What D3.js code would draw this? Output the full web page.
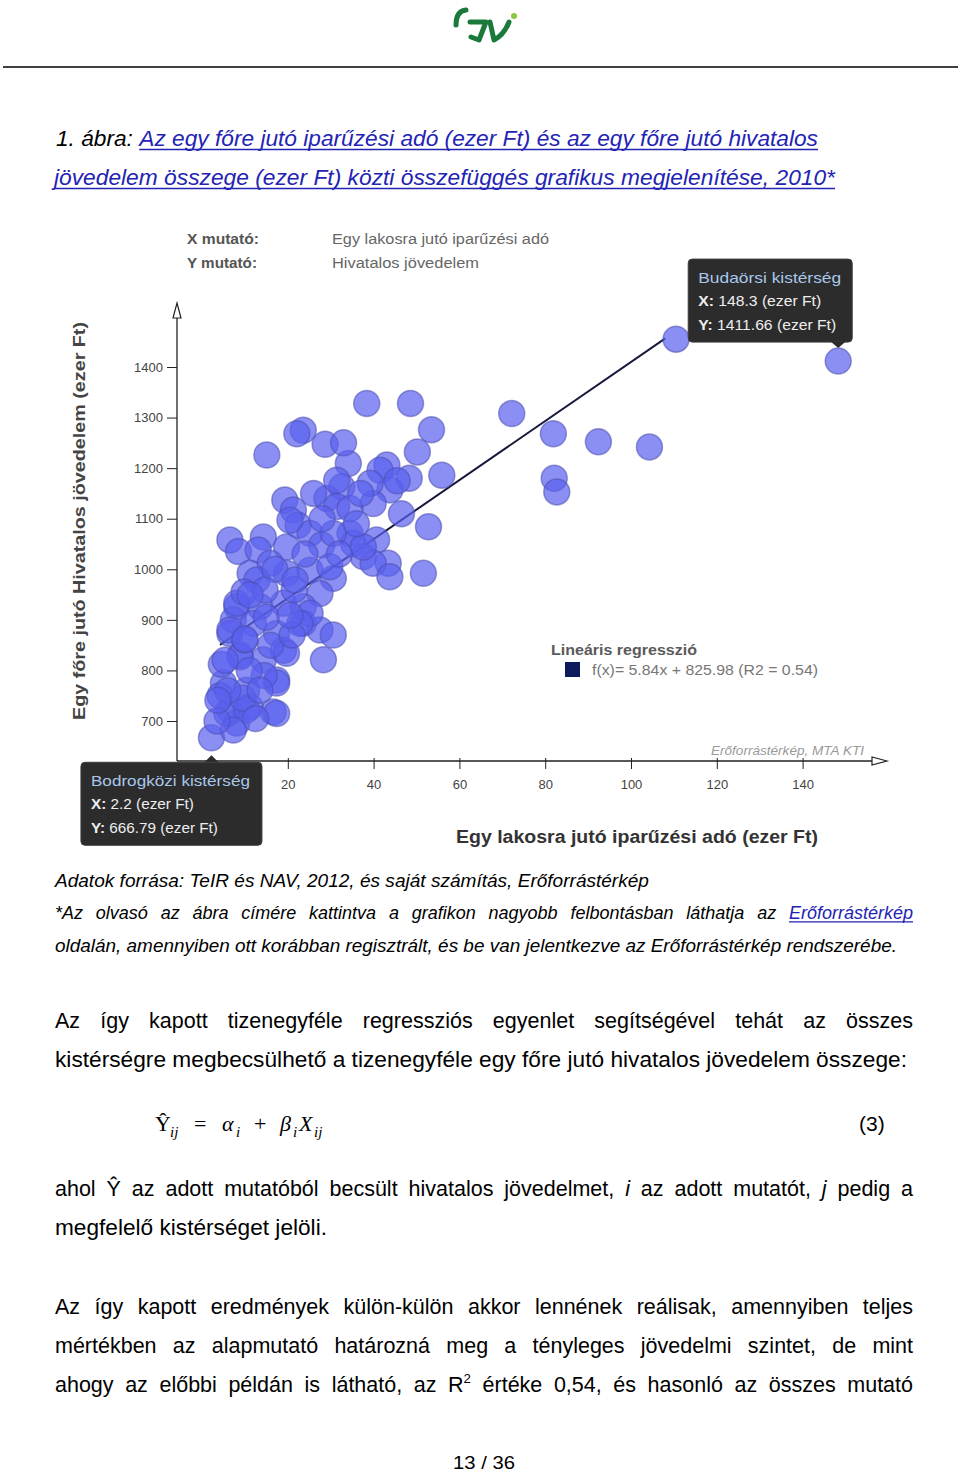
<!DOCTYPE html>
<html lang="hu">
<head>
<meta charset="UTF-8">
<title>Iparűzési adó és hivatalos jövedelem, 2010</title>
<script src="https://d3js.org/d3.v7.min.js"></script>
<style>
  body { margin: 0; background: #fff; }
  svg { display: block; font-family: "Liberation Sans", Arial, sans-serif; }
</style>
</head>
<body>
<script>
// --- data ---
// egy lakosra jutó iparűzési adó (ezer Ft)
const taxPerCapita = [
  38.4, 48.6, 72.2, 53.5, 23.6, 22.1, 28.7, 15.1, 50.2, 34.1, 43.1, 41.5, 48.3, 55.9, 32.6, 43.8,
  39.9, 29.1, 31.4, 19.3, 21.3, 22.4, 46.5, 52.8, 6.5, 8.5, 14.3, 13.1, 19.7, 25.2, 27.9, 34.5,
  35.3, 40.7, 37.6, 43.4, 39.9, 11.2, 19.7, 15.9, 25.2, 30.6, 51.6, 27.5, 8.1, 13.5, 19.0, 23.6,
  7.3, 12.0, 17.4, 23.6, 27.5, 30.6, 6.5, 8.9, 14.3, 19.0, 28.3, 17.4, 5.0, 10.4, 6.5, 16.6,
  2.2, 11.2, 8.1, 81.9, 92.4, 104.3, 82.1, 82.7, 110.5, 148.3, 8.1, 6.5, 8.9, 19.7, 17.4, 5.8,
  10.4, 17.4, 7.3, 25.2, 12.8, 43.8, 22.8, 31.4, 39.2, 20.5, 34.5, 30.6, 37.6, 29.8,
  4.2, 9.5, 3.5, 12.5, 6.0, 14.5, 11.0, 4.5, 16.0, 10.0, 21.0, 15.0, 9.8, 21.5, 17.0, 24.0,
  32.0, 28.0, 36.0, 26.0, 37.0, 45.5, 33.0,
  10.0, 14.7, 21.7, 5.4, 13.5, 20.5, 11.2, 3.7
];
// egy főre jutó hivatalos jövedelem (ezer Ft)
const incomePerCapita = [
  1328, 1328, 1308, 1276, 1275, 1268, 1247, 1226, 1232, 1209, 1206, 1196, 1180, 1186, 1163, 1157,
  1130, 1140, 1124, 1137, 1117, 1087, 1110, 1084, 1058, 1035, 1064, 1038, 1044, 1071, 1048, 1071,
  1051, 1058, 1025, 1012, 1012, 992, 992, 1012, 998, 982, 992, 952, 926, 926, 933, 926,
  900, 893, 873, 893, 880, 870, 873, 830, 821, 840, 821, 781, 775, 761, 722, 718,
  666.79, 728, 696, 1268, 1252, 1242, 1180, 1153, 1455, 1411.66, 933, 880, 827, 834, 775, 715,
  722, 715, 682, 913, 979, 985, 893, 1176, 1170, 1097, 1120, 1071, 1044, 1005,
  750, 745, 700, 705, 760, 790, 800, 812, 850, 860, 870, 905, 955, 960, 1000, 1030,
  1030, 1100, 1090, 1150, 1150, 1175, 1250,
  862, 959, 979, 820, 761, 909, 949, 741
];
const xTicks = [20, 40, 60, 80, 100, 120, 140];
const yTicks = [700, 800, 900, 1000, 1100, 1200, 1300, 1400];
const regSlope = 5.84;
const regIntercept = 825.98;
const regExtent = [4.2, 108];
const tipNames = ["Budaörsi kistérség", "Bodrogközi kistérség"];
const tipX = [148.3, 2.2];
const tipY = [1411.66, 666.79];
const tipSide = ["above", "below"];

const bodyFont = '"Liberation Sans", Arial, sans-serif';
const linkColor = "#2323b4";

const svg = d3.select("body").append("svg")
    .attr("width", 960)
    .attr("height", 1473);

// --- header: logo + rule ---
const logo = svg.append("g").attr("fill", "none").attr("stroke-linecap", "round");
logo.append("path").attr("d", "M466 10 Q456 11 456 25").attr("stroke", "#1b7a3b").attr("stroke-width", 5);
logo.append("path").attr("d", "M470 22 L486 22 L479 40 L471 37").attr("stroke", "#1b7a3b").attr("stroke-width", 5).attr("stroke-linejoin", "round");
logo.append("path").attr("d", "M490 22 L494 40 Q504 35 509 22").attr("stroke", "#1b7a3b").attr("stroke-width", 5).attr("stroke-linejoin", "round");
logo.append("circle").attr("cx", 514).attr("cy", 16).attr("r", 3).attr("fill", "#8cc63f").attr("stroke", "none");

svg.append("line").attr("x1", 3).attr("x2", 958).attr("y1", 67).attr("y2", 67)
    .attr("stroke", "#000").attr("stroke-width", 1.5);

// one line of running text; fitted or justified between x0 and x1
function textLine(tokens, o) {
  const size = o.size;
  const inner = svg.append("g").attr("transform", `translate(${o.x0},${o.y})`).append("g");
  const items = tokens.map(tok => {
    const d = typeof tok === "string" ? {t: tok} : tok;
    const el = inner.append("text")
        .attr("font-size", size)
        .attr("font-family", bodyFont)
        .attr("font-style", (d.italic || o.italic) ? "italic" : null)
        .attr("fill", d.link ? linkColor : "#000");
    el.append("tspan").text(d.t);
    if (d.sup) el.append("tspan").attr("font-size", size * 0.62).attr("dy", -size * 0.42).text(d.sup);
    return {d, el, w: el.node().getComputedTextLength()};
  });
  const space = size * 0.278;
  const sum = d3.sum(items, i => i.w);
  const natural = sum + space * (items.length - 1);
  const target = o.x1 - o.x0;
  let sx = 1, gap = space;
  if (o.justify) {
    if (natural > target) sx = target / natural;
    else gap = (target - sum) / (items.length - 1);
  } else {
    sx = target / natural;
  }
  let cx = 0;
  items.forEach(i => { i.x = cx; i.el.attr("x", cx); cx += i.w + gap; });
  inner.attr("transform", `scale(${sx},1)`);

  const runs = [];
  let run = null;
  items.forEach(i => {
    if (i.d.link) {
      if (!run) { run = {a: i.x}; runs.push(run); }
      run.b = i.x + i.w;
    } else run = null;
  });
  runs.forEach(r => inner.append("line")
      .attr("x1", r.a).attr("x2", r.b)
      .attr("y1", size * 0.16).attr("y2", size * 0.16)
      .attr("stroke", linkColor).attr("stroke-width", 1.3));
}
const words = (s, extra) => s.split(" ").map(t => Object.assign({t}, extra || {}));

// --- caption ---
textLine(["1.", "ábra:"].concat(words("Az egy főre jutó iparűzési adó (ezer Ft) és az egy főre jutó hivatalos", {link: true})),
    {x0: 56, x1: 818, y: 146, size: 22, italic: true});
textLine(words("jövedelem összege (ezer Ft) közti összefüggés grafikus megjelenítése, 2010*", {link: true}),
    {x0: 54, x1: 835, y: 185, size: 22, italic: true});

// --- chart ---
const chart = svg.append("g").attr("class", "chart").attr("font-family", bodyFont);
const x = d3.scaleLinear().domain([0, 140]).range([202, 802.6]);
const y = d3.scaleLinear().domain([700, 1400]).range([721, 367]);
const yAxisX = 177, xAxisY = 761, yAxisTop = 303, xAxisRight = 887;

function fit(sel, w) {
  return sel.attr("textLength", w).attr("lengthAdjust", "spacingAndGlyphs");
}

// indicator labels
const ind = chart.append("g").attr("font-size", 14);
fit(ind.append("text").attr("x", 187).attr("y", 244).attr("font-weight", "bold").attr("fill", "#555").text("X mutató:"), 72);
fit(ind.append("text").attr("x", 187).attr("y", 268).attr("font-weight", "bold").attr("fill", "#555").text("Y mutató:"), 70);
fit(ind.append("text").attr("x", 332).attr("y", 244).attr("fill", "#666").text("Egy lakosra jutó iparűzési adó"), 217);
fit(ind.append("text").attr("x", 332).attr("y", 268).attr("fill", "#666").text("Hivatalos jövedelem"), 147);

// axes
const yAxis = chart.append("g")
    .attr("transform", `translate(${yAxisX},0)`)
    .call(d3.axisLeft(y).tickValues(yTicks).tickFormat(d3.format("d")).tickSize(10).tickPadding(4));
yAxis.select(".domain").remove();
yAxis.selectAll("line").attr("stroke", "#222");
yAxis.selectAll("text").attr("font-size", 13).attr("fill", "#444").attr("font-family", bodyFont);

const xAxis = chart.append("g")
    .attr("transform", `translate(0,${xAxisY - 3})`)
    .call(d3.axisBottom(x).tickValues(xTicks).tickFormat(d3.format("d")).tickSize(11).tickPadding(11));
xAxis.select(".domain").remove();
xAxis.selectAll("line").attr("stroke", "#222");
xAxis.selectAll("text").attr("font-size", 13).attr("fill", "#444").attr("font-family", bodyFont);

chart.append("line").attr("x1", yAxisX).attr("x2", yAxisX).attr("y1", xAxisY).attr("y2", yAxisTop + 15)
    .attr("stroke", "#222").attr("stroke-width", 1.3);
chart.append("path")
    .attr("d", `M${yAxisX},${yAxisTop} L${yAxisX + 4},${yAxisTop + 15} L${yAxisX - 4},${yAxisTop + 15} Z`)
    .attr("fill", "#fff").attr("stroke", "#222").attr("stroke-width", 1.2);
chart.append("line").attr("x1", yAxisX).attr("x2", xAxisRight - 15).attr("y1", xAxisY).attr("y2", xAxisY)
    .attr("stroke", "#222").attr("stroke-width", 1.3);
chart.append("path")
    .attr("d", `M${xAxisRight},${xAxisY} L${xAxisRight - 15},${xAxisY - 4} L${xAxisRight - 15},${xAxisY + 4} Z`)
    .attr("fill", "#fff").attr("stroke", "#222").attr("stroke-width", 1.2);

fit(chart.append("text").attr("x", 864).attr("y", 755).attr("text-anchor", "end")
    .attr("font-size", 12).attr("font-style", "italic").attr("fill", "#9a9a9a")
    .text("Erőforrástérkép, MTA KTI"), 153);

// axis titles
fit(chart.append("text")
    .attr("transform", "translate(85,521) rotate(-90)")
    .attr("text-anchor", "middle").attr("font-size", 17).attr("font-weight", "bold").attr("fill", "#444")
    .text("Egy főre jutó Hivatalos jövedelem (ezer Ft)"), 398);
fit(chart.append("text").attr("x", 456).attr("y", 843)
    .attr("font-size", 18).attr("font-weight", "bold").attr("fill", "#333")
    .text("Egy lakosra jutó iparűzési adó (ezer Ft)"), 362);

// regression line (under the points)
chart.append("line")
    .attr("x1", x(regExtent[0])).attr("y1", y(regSlope * regExtent[0] + regIntercept))
    .attr("x2", x(regExtent[1])).attr("y2", y(regSlope * regExtent[1] + regIntercept))
    .attr("stroke", "#16183c").attr("stroke-width", 2);

// points
const points = taxPerCapita.map((v, i) => ({x: v, y: incomePerCapita[i]}));
chart.append("g").selectAll("circle")
    .data(points)
    .join("circle")
    .attr("cx", d => x(d.x))
    .attr("cy", d => y(d.y))
    .attr("r", 13)
    .attr("fill", "#5a5fee")
    .attr("fill-opacity", 0.7)
    .attr("stroke", "#4a4fb0")
    .attr("stroke-opacity", 0.55)
    .attr("stroke-width", 1.5);

// legend
const leg = chart.append("g");
fit(leg.append("text").attr("x", 551).attr("y", 655).attr("font-size", 15).attr("font-weight", "bold")
    .attr("fill", "#5a5a5a").text("Lineáris regresszió"), 146);
leg.append("rect").attr("x", 565).attr("y", 662).attr("width", 15).attr("height", 15).attr("fill", "#0d1a5c");
fit(leg.append("text").attr("x", 592).attr("y", 675).attr("font-size", 15).attr("fill", "#777")
    .text(`f(x)= ${regSlope}x + ${regIntercept} (R2 = 0.54)`), 226);

// tooltips
const tipW = [164, 181], tipH = 83;
tipNames.forEach((name, i) => {
  const px = x(tipX[i]), py = y(tipY[i]);
  const g = chart.append("g");
  let bx, by, ptr;
  if (tipSide[i] === "above") {
    bx = px - tipW[i] + 14; by = py - 19 - tipH;
    ptr = `M${px - 7},${by + tipH} L${px},${by + tipH + 6} L${px + 7},${by + tipH} Z`;
  } else {
    bx = px - 130.5; by = py + 24.5;
    ptr = `M${px - 7},${by} L${px},${by - 7} L${px + 7},${by} Z`;
  }
  g.append("rect").attr("x", bx).attr("y", by).attr("width", tipW[i]).attr("height", tipH)
      .attr("rx", 4).attr("fill", "#2c2c2c").attr("stroke", "#3c3c3c");
  g.append("path").attr("d", ptr).attr("fill", "#2c2c2c");
  const tw = i === 0 ? [143, 123, 138] : [159, 103, 127];
  fit(g.append("text").attr("x", bx + 10).attr("y", by + 24).attr("font-size", 15).attr("fill", "#a9c7ea").text(name), tw[0]);
  const lx = g.append("text").attr("x", bx + 10).attr("y", by + 47).attr("font-size", 15).attr("fill", "#eee");
  lx.append("tspan").attr("font-weight", "bold").text("X:");
  lx.append("tspan").text(` ${tipX[i]} (ezer Ft)`);
  fit(lx, tw[1]);
  const ly = g.append("text").attr("x", bx + 10).attr("y", by + 71).attr("font-size", 15).attr("fill", "#eee");
  ly.append("tspan").attr("font-weight", "bold").text("Y:");
  ly.append("tspan").text(` ${tipY[i]} (ezer Ft)`);
  fit(ly, tw[2]);
});

// --- notes under the figure ---
textLine(words("Adatok forrása: TeIR és NAV, 2012, és saját számítás, Erőforrástérkép"),
    {x0: 55, x1: 649, y: 887, size: 18, italic: true});
textLine(words("*Az olvasó az ábra címére kattintva a grafikon nagyobb felbontásban láthatja az").concat([{t: "Erőforrástérkép", link: true}]),
    {x0: 55, x1: 913, y: 919, size: 18, italic: true, justify: true});
textLine(words("oldalán, amennyiben ott korábban regisztrált, és be van jelentkezve az Erőforrástérkép rendszerébe."),
    {x0: 55, x1: 897, y: 952, size: 18, italic: true});

// --- body text ---
textLine(words("Az így kapott tizenegyféle regressziós egyenlet segítségével tehát az összes"),
    {x0: 55, x1: 913, y: 1028, size: 21.5, justify: true});
textLine(words("kistérségre megbecsülhető a tizenegyféle egy főre jutó hivatalos jövedelem összege:"),
    {x0: 55, x1: 907, y: 1067, size: 21.5});

// equation (3)
const eq = svg.append("g").attr("font-family", '"Liberation Serif", "DejaVu Serif", serif').attr("font-size", 22);
const eqParts = [
  {t: "Ŷ", x: 155}, {t: "ij", x: 170, sub: true}, {t: "=", x: 194, up: true},
  {t: "α", x: 222}, {t: "i", x: 236, sub: true}, {t: "+", x: 254, up: true},
  {t: "β", x: 280}, {t: "i", x: 293, sub: true}, {t: "X", x: 299}, {t: "ij", x: 314, sub: true}
];
eqParts.forEach(p => eq.append("text")
    .attr("x", p.x).attr("y", p.sub ? 1137 : 1131)
    .attr("font-size", p.sub ? 15 : 22)
    .attr("font-style", (p.up || p.t === "Ŷ") ? null : "italic")
    .text(p.t));
svg.append("text").attr("x", 859).attr("y", 1131).attr("font-size", 21).attr("font-family", bodyFont).text("(3)");

textLine(words("ahol Ŷ az adott mutatóból becsült hivatalos jövedelmet,")
      .concat([{t: "i", italic: true}], words("az adott mutatót,"), [{t: "j", italic: true}], words("pedig a")),
    {x0: 55, x1: 913, y: 1196, size: 21.5, justify: true});
textLine(words("megfelelő kistérséget jelöli."), {x0: 55, x1: 327, y: 1235, size: 21.5});

textLine(words("Az így kapott eredmények külön-külön akkor lennének reálisak, amennyiben teljes"),
    {x0: 55, x1: 913, y: 1314, size: 21.5, justify: true});
textLine(words("mértékben az alapmutató határozná meg a tényleges jövedelmi szintet, de mint"),
    {x0: 55, x1: 913, y: 1353, size: 21.5, justify: true});
textLine(words("ahogy az előbbi példán is látható, az").concat([{t: "R", sup: "2"}], words("értéke 0,54, és hasonló az összes mutató")),
    {x0: 55, x1: 913, y: 1392, size: 21.5, justify: true});

textLine(["13", "/", "36"], {x0: 453, x1: 515, y: 1469, size: 19});
</script>
</body>
</html>
